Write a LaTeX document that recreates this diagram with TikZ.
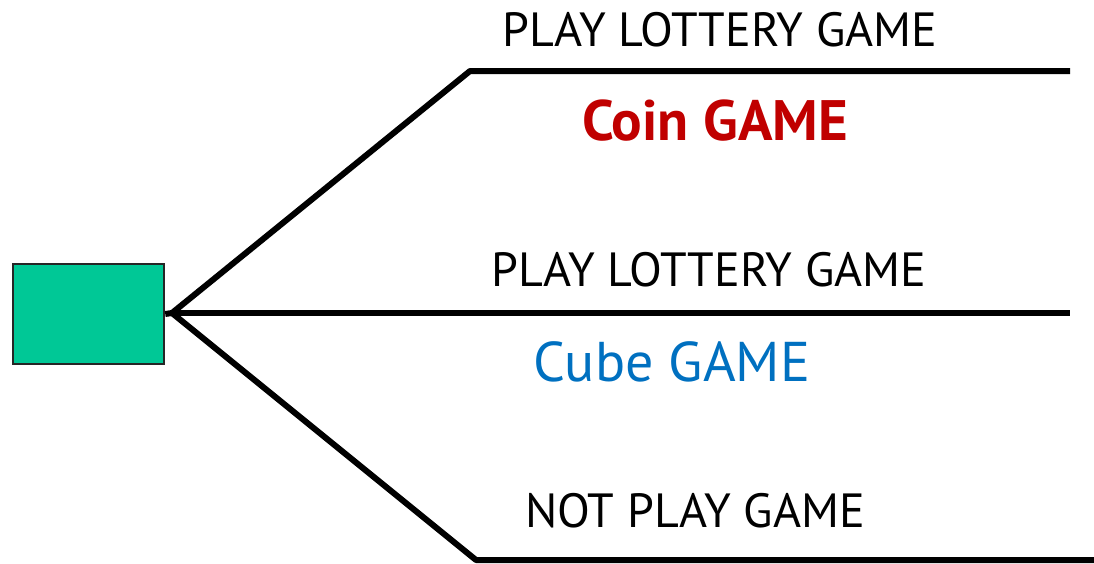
\documentclass[tikz,border=0pt]{standalone}
\usepackage{fontspec}
\setmainfont{PT Sans}
\definecolor{boxgreen}{HTML}{00C896}
\definecolor{coinred}{HTML}{C00000}
\definecolor{cubeblue}{HTML}{0070C0}
\begin{document}
\begin{tikzpicture}[x=1pt,y=-1pt,
  branch/.style={line width=6pt,line join=round,line cap=butt},
  lbl/.style={inner sep=0pt,font=\fontsize{48}{54}\selectfont}]
\useasboundingbox (0,0) rectangle (1094,563);
\clip (0,0) rectangle (1094,563);
\node[draw=black!85,line width=2.5pt,fill=boxgreen,minimum width=151pt,minimum height=100pt,inner sep=0pt] (dec) at (88.5,314) {};
\coordinate (j) at (172,313);
\coordinate (t1) at (470,71);
\coordinate (t2) at (1070,71);
\coordinate (m2) at (1070,313);
\coordinate (b1) at (476,560);
\coordinate (b2) at (1094,560);
\draw[branch] (dec.east) -- (j) -- (t1) -- (t2);
\draw[branch] (j) -- (m2);
\draw[branch] (j) -- (b1) -- (b2);
\node[lbl] (l1) at (720,30) {PLAY LOTTERY GAME};
\node[lbl,text=coinred,font=\fontsize{57}{62}\selectfont\bfseries] (c1) at (715,121) {Coin GAME};
\node[lbl] (l2) at (709,270) {PLAY LOTTERY GAME};
\node[lbl,text=cubeblue,font=\fontsize{56}{62}\selectfont] (c2) at (672,362) {Cube GAME};
\node[lbl] (l3) at (695,511) {NOT PLAY GAME};
\end{tikzpicture}
\end{document}
